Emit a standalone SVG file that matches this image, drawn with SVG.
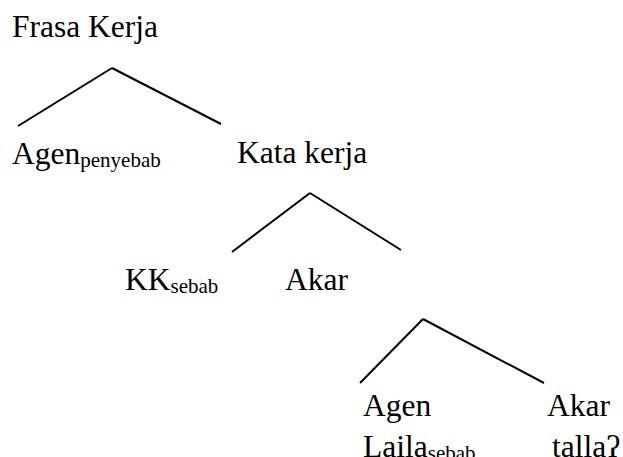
<svg xmlns="http://www.w3.org/2000/svg" width="623" height="457" viewBox="0 0 623 457">
<style>
text{font-family:"Liberation Serif","Times New Roman",serif;font-size:31.5px;fill:#000}
.sub{font-size:21px}
.edge{stroke:#000;stroke-width:2;fill:none}
</style>
<rect width="623" height="457" fill="#fff"/>
<g id="connectors">
<line class="edge" x1="112" y1="68" x2="18" y2="126"/>
<line class="edge" x1="112" y1="68" x2="221" y2="124"/>
<line class="edge" x1="310" y1="193" x2="232" y2="252"/>
<line class="edge" x1="310" y1="193" x2="401" y2="250"/>
<line class="edge" x1="423" y1="319" x2="360" y2="383"/>
<line class="edge" x1="423" y1="319" x2="544" y2="383"/>
</g>
<g id="frasa-kerja"><text x="12" y="37">Frasa Kerja</text></g>
<g id="agen-penyebab"><text x="12" y="164">Agen<tspan class="sub" dy="3">penyebab</tspan></text></g>
<g id="kata-kerja"><text x="237" y="163">Kata kerja</text></g>
<g id="kk-sebab"><text x="125" y="290">KK<tspan class="sub" dy="3">sebab</tspan></text></g>
<g id="akar"><text x="285" y="290">Akar</text></g>
<g id="agen-laila"><text x="363" y="416">Agen</text><text x="363" y="457">Laila<tspan class="sub" dy="3">sebab</tspan></text></g>
<g id="akar-talla"><text x="547" y="416">Akar</text><text x="552" y="457">tallaʔ</text></g>
</svg>
